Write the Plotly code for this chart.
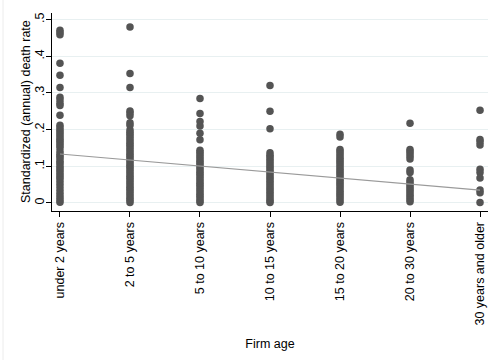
import plotly.graph_objects as go

# Firm age groups (x categories)
age_groups = ["under 2 years", "2 to 5 years", "5 to 10 years", "10 to 15 years",
              "15 to 20 years", "20 to 30 years", "30 years and older"]

# Standardized (annual) death rates observed in each age group
rates_under2 = [0.471, 0.465, 0.459, 0.381, 0.348, 0.315, 0.288, 0.281, 0.272, 0.266,
                0.239, 0.212, 0.205, 0.198, 0.192, 0.186, 0.180, 0.174, 0.168, 0.162,
                0.156, 0.150, 0.140, 0.133, 0.127, 0.121, 0.114, 0.108, 0.101, 0.095,
                0.089, 0.082, 0.076, 0.070, 0.063, 0.055, 0.047, 0.038, 0.030, 0.022,
                0.015, 0.008, 0.002]
rates_2to5 = [0.480, 0.353, 0.315, 0.251, 0.245, 0.238, 0.219, 0.212, 0.199, 0.193,
              0.187, 0.181, 0.175, 0.169, 0.163, 0.157, 0.151, 0.145, 0.139, 0.133,
              0.127, 0.121, 0.115, 0.109, 0.103, 0.097, 0.091, 0.085, 0.079, 0.073,
              0.067, 0.061, 0.055, 0.049, 0.043, 0.037, 0.031, 0.025, 0.019, 0.013,
              0.007, 0.001]
rates_5to10 = [0.285, 0.244, 0.222, 0.210, 0.190, 0.172, 0.144, 0.138, 0.132, 0.126,
               0.120, 0.114, 0.108, 0.102, 0.096, 0.090, 0.084, 0.078, 0.072, 0.066,
               0.060, 0.054, 0.048, 0.042, 0.036, 0.030, 0.024, 0.018, 0.012, 0.006,
               0.001]
rates_10to15 = [0.320, 0.250, 0.202, 0.137, 0.130, 0.125, 0.119, 0.113, 0.107, 0.101,
                0.095, 0.089, 0.083, 0.077, 0.071, 0.065, 0.059, 0.053, 0.047, 0.041,
                0.035, 0.029, 0.023, 0.017, 0.011, 0.005, 0.001]
rates_15to20 = [0.187, 0.180, 0.146, 0.140, 0.134, 0.128, 0.122, 0.116, 0.110, 0.104,
                0.098, 0.092, 0.086, 0.080, 0.074, 0.068, 0.062, 0.056, 0.050, 0.044,
                0.038, 0.032, 0.026, 0.020, 0.014, 0.008, 0.002]
rates_20to30 = [0.217, 0.146, 0.140, 0.134, 0.127, 0.120, 0.090, 0.083, 0.063, 0.057,
                0.051, 0.045, 0.039, 0.033, 0.027, 0.021, 0.015, 0.009, 0.003]
rates_30plus = [0.253, 0.173, 0.167, 0.158, 0.092, 0.083, 0.068, 0.035, 0.028, 0.001]

# Linear fit endpoints (fitted values at first and last age group)
fit_start = 0.1335
fit_end = 0.035

all_rates = [rates_under2, rates_2to5, rates_5to10, rates_10to15,
             rates_15to20, rates_20to30, rates_30plus]

xs, ys = [], []
for i, vals in enumerate(all_rates):
    xs.extend([i] * len(vals))
    ys.extend(vals)

fig = go.Figure()
fig.add_trace(go.Scatter(
    x=xs, y=ys, mode="markers",
    marker=dict(size=7.5, color="#545454", line=dict(width=0)),
    showlegend=False, hoverinfo="skip",
))
fig.add_trace(go.Scatter(
    x=[0, len(age_groups) - 1], y=[fit_start, fit_end], mode="lines",
    line=dict(color="#9a9a9a", width=1.2),
    showlegend=False, hoverinfo="skip",
))

y_ticks = [0, 0.1, 0.2, 0.3, 0.4, 0.5]
y_ticktext = ["0", ".1", ".2", ".3", ".4", ".5"]

plot_w = 495 - 52 - 7
plot_h = 360 - 13 - 149

fig.update_layout(
    width=495, height=360,
    margin=dict(l=52, r=7, t=13, b=149),
    paper_bgcolor="white", plot_bgcolor="white",
    font=dict(family="Liberation Sans, Arial, sans-serif", size=12.5, color="black"),
    xaxis=dict(
        range=[-0.114, 6.114],
        tickmode="array", tickvals=list(range(len(age_groups))), ticktext=age_groups,
        tickangle=-90, ticks="outside", ticklen=5, tickcolor="black",
        showline=True, linecolor="black", linewidth=1,
        showgrid=False, zeroline=False,
        title=dict(text="Firm age", standoff=14, font=dict(size=12.5)),
        tickfont=dict(size=12.5),
    ),
    yaxis=dict(
        range=[-0.022, 0.518],
        tickmode="array", tickvals=y_ticks, ticktext=y_ticktext,
        tickangle=-90, ticks="outside", ticklen=5, tickcolor="black",
        ticklabelstandoff=-3,
        showline=True, linecolor="black", linewidth=1,
        showgrid=True, gridcolor="#e8f0f1", gridwidth=1, zeroline=False,
        tickfont=dict(size=12.5),
    ),
    annotations=[dict(
        text="Standardized (annual) death rate", textangle=-90,
        xref="paper", yref="paper", x=(26 - 52) / plot_w, y=0.5,
        xanchor="center", yanchor="middle", showarrow=False,
        font=dict(size=12.5),
    )],
    shapes=[dict(type="line", xref="paper", yref="paper",
                 x0=(3 - 52) / plot_w, x1=(3 - 52) / plot_w,
                 y0=-149 / plot_h, y1=1 + 13 / plot_h,
                 line=dict(color="#ececec", width=1))],
)

fig.write_html("out.html")
